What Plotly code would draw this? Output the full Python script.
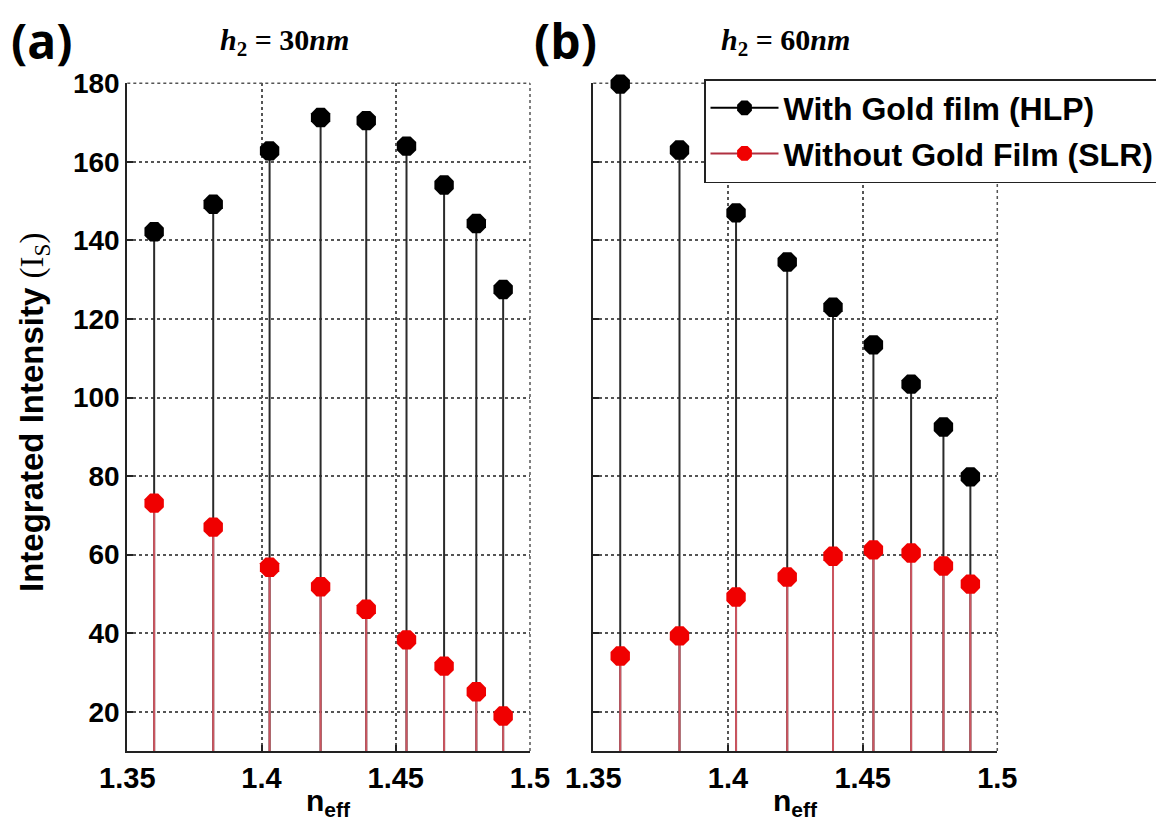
import plotly.graph_objects as go

# ---------------- data ----------------
n_eff = [1.360, 1.382, 1.403, 1.422, 1.439, 1.454, 1.468, 1.480, 1.490]

hlp_30nm = [142.2, 149.2, 162.8, 171.3, 170.5, 164.0, 154.1, 144.3, 127.5]
slr_30nm = [73.1, 67.0, 56.8, 51.8, 46.1, 38.3, 31.6, 25.1, 18.9]

hlp_60nm = [179.8, 163.0, 147.0, 134.5, 123.0, 113.4, 103.4, 92.5, 79.8]
slr_60nm = [34.2, 39.3, 49.2, 54.3, 59.6, 61.2, 60.4, 57.1, 52.5]

x_ticks = [1.35, 1.4, 1.45, 1.5]
x_tick_labels = ["1.35", "1.4", "1.45", "1.5"]
y_ticks = [20, 40, 60, 80, 100, 120, 140, 160, 180]
y_tick_labels = [str(v) for v in y_ticks]

panel_labels = ["(a)", "(b)"]
panel_titles = ["<i>h</i><sub>2</sub> = 30<i>nm</i>", "<i>h</i><sub>2</sub> = 60<i>nm</i>"]
series_names = ["With Gold film (HLP)", "Without Gold Film (SLR)"]
BASELINE = 0

# ---------------- geometry (page pixel coords, page body has 8px offset) ----------------
OFF = 8
W, H = 1164 - OFF, 839 - OFF
def px(x):
    return (x - OFF) / W
def py(y):
    return 1 - (y - OFF) / H

x_dom_a = [px(127.3), px(530)]
x_dom_b = [px(593.3), px(997.3)]
y_dom = [py(751), py(83.3)]

BLACK_STEM = "#2a2a2a"
RED_STEM = "#cc5560"
RED_MARK = "#f00000"

fig = go.Figure()

def stems(xs, ys):
    sx, sy = [], []
    for x, y in zip(xs, ys):
        sx += [x, x, None]
        sy += [BASELINE, y, None]
    return sx, sy

panels = [("x", "y", hlp_30nm, slr_30nm), ("x2", "y2", hlp_60nm, slr_60nm)]
for xa, ya, hlp, slr in panels:
    sx, sy = stems(n_eff, hlp)
    fig.add_trace(go.Scatter(x=sx, y=sy, mode="lines", xaxis=xa, yaxis=ya,
                             line=dict(color=BLACK_STEM, width=2), showlegend=False, hoverinfo="skip"))
    fig.add_trace(go.Scatter(x=n_eff, y=hlp, mode="markers", xaxis=xa, yaxis=ya, cliponaxis=False,
                             marker=dict(symbol="octagon", size=21, color="black", line=dict(width=0)),
                             showlegend=False))
    sx, sy = stems(n_eff, slr)
    fig.add_trace(go.Scatter(x=sx, y=sy, mode="lines", xaxis=xa, yaxis=ya,
                             line=dict(color=RED_STEM, width=2), showlegend=False, hoverinfo="skip"))
    fig.add_trace(go.Scatter(x=n_eff, y=slr, mode="markers", xaxis=xa, yaxis=ya, cliponaxis=False,
                             marker=dict(symbol="octagon", size=21, color=RED_MARK, line=dict(width=0)),
                             showlegend=False))

# legend entries
fig.add_trace(go.Scatter(x=[None], y=[None], mode="lines+markers", name=series_names[0],
                         legendgroup="a", line=dict(color="black", width=2),
                         marker=dict(symbol="octagon", size=16, color="black")))
fig.add_trace(go.Scatter(x=[None], y=[None], mode="lines+markers", name=series_names[1],
                         legendgroup="b", line=dict(color="#b03040", width=2),
                         marker=dict(symbol="octagon", size=16, color=RED_MARK)))

axis_common_x = dict(range=[1.35, 1.5], tickvals=x_ticks, ticktext=x_tick_labels,
                     showline=True, linecolor="#222", linewidth=2, automargin=False,
                     ticks="inside", ticklen=6, tickwidth=2, tickcolor="#222",
                     showgrid=True, gridcolor="#555", griddash="dot", gridwidth=1.5,
                     zeroline=False,
                     tickfont=dict(family="Liberation Sans", size=29, color="black", weight="bold"))
axis_common_y = dict(range=[10, 180], tickvals=y_ticks, ticktext=y_tick_labels,
                     showline=True, linecolor="#222", linewidth=2, automargin=False,
                     ticks="inside", ticklen=6, tickwidth=2, tickcolor="#222",
                     showgrid=True, gridcolor="#555", griddash="dot", gridwidth=1.5,
                     zeroline=False,
                     tickfont=dict(family="Liberation Sans", size=28, color="black", weight="bold"))

fig.update_layout(
    width=W, height=H,
    margin=dict(l=0, r=0, t=0, b=0, pad=0, autoexpand=False),
    paper_bgcolor="white", plot_bgcolor="white",
    xaxis=dict(domain=x_dom_a, anchor="y", **axis_common_x),
    yaxis=dict(domain=y_dom, anchor="x", **axis_common_y),
    xaxis2=dict(domain=x_dom_b, anchor="y2", **axis_common_x),
    yaxis2=dict(domain=y_dom, anchor="x2", showticklabels=False, **axis_common_y),
    legend=dict(x=px(704), y=py(79), xanchor="left", yanchor="top",
                bgcolor="white", bordercolor="#222", borderwidth=1.5,
                font=dict(family="Liberation Sans", size=32, color="black", weight="bold"),
                tracegroupgap=1, itemwidth=68),
    showlegend=True,
)

# dotted top and right borders (grid at range ends)
for xr, yr in [("x", "y"), ("x2", "y2")]:
    fig.add_shape(type="line", xref=f"{xr} domain", yref=f"{yr} domain", x0=0, x1=1, y0=1, y1=1,
                  line=dict(color="#555", width=1.5, dash="dot"), layer="below")
    fig.add_shape(type="line", xref=f"{xr} domain", yref=f"{yr} domain", x0=1, x1=1, y0=0, y1=1,
                  line=dict(color="#555", width=1.5, dash="dot"), layer="below")

ann = []
# panel labels
for label, xc in zip(panel_labels, [42, 565]):
    ann.append(dict(text=label, x=px(xc), y=py(40), xref="paper", yref="paper", showarrow=False,
                    xanchor="center", yanchor="middle",
                    font=dict(family="Open Sans", size=48, color="black", weight="bold")))
# panel titles
for t, xc in zip(panel_titles, [284, 785]):
    ann.append(dict(text=t, x=px(xc), y=py(42), xref="paper", yref="paper", showarrow=False,
                    xanchor="center", yanchor="middle",
                    font=dict(family="Liberation Serif", size=30, color="black", weight="bold")))
# x-axis titles
for xc in [(127.3 + 530) / 2, (593.3 + 997.3) / 2]:
    ann.append(dict(text="n<sub>eff</sub>", x=px(xc), y=py(802), xref="paper", yref="paper",
                    showarrow=False, xanchor="center", yanchor="middle",
                    font=dict(family="Liberation Sans", size=30, color="black", weight="bold")))
# y-axis title
ann.append(dict(text="Integrated Intensity <span style='font-family:Liberation Serif;font-weight:normal'>(I<sub>S</sub>)</span>",
                x=px(34), y=py(413), xref="paper", yref="paper", showarrow=False, textangle=-90,
                xanchor="center", yanchor="middle",
                font=dict(family="Liberation Sans", size=33, color="black", weight="bold")))
fig.update_layout(annotations=ann)

fig.write_html("out.html")
